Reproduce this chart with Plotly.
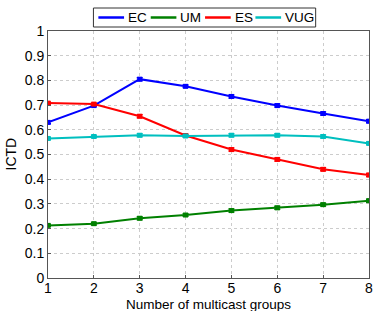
import plotly.graph_objects as go

groups = [1, 2, 3, 4, 5, 6, 7, 8]
ec = [0.630, 0.698, 0.805, 0.776, 0.735, 0.698, 0.666, 0.635]
um = [0.213, 0.220, 0.242, 0.255, 0.273, 0.284, 0.297, 0.313]
es = [0.708, 0.704, 0.655, 0.577, 0.520, 0.480, 0.440, 0.417]
vug = [0.565, 0.573, 0.578, 0.575, 0.578, 0.578, 0.573, 0.545]
err = [0.005, 0.005, 0.006, 0.005, 0.006, 0.006, 0.006, 0.006]

names = ["EC", "UM", "ES", "VUG"]
colors = ["#0000ff", "#008000", "#ff0000", "#00bfbf"]
values = [ec, um, es, vug]

FONT = "Liberation Sans, Arial, sans-serif"
W, H = 379, 311
ML, MR, MT, MB = 48, 6, 31, 33
PW, PH = W - ML - MR, H - MT - MB

def px(x):
    return (x - ML) / PW

def py(y):
    return (H - MB - y) / PH

fig = go.Figure()
for name, vals, col in zip(names, values, colors):
    fig.add_trace(go.Scatter(
        x=groups, y=vals, name=name, mode="lines+markers", showlegend=False,
        line=dict(color=col, width=2),
        marker=dict(symbol="square", size=5, color=col),
        error_y=dict(type="data", array=err, color=col, thickness=1.5, width=3),
    ))

# legend drawn as a boxed row (lines + text)
shapes = [dict(type="rect", xref="paper", yref="paper", x0=px(94), x1=px(319),
               y0=py(27), y1=py(8), line=dict(color="#333", width=1), fillcolor="white",
               layer="above")]
annotations = []
line_starts = [99, 152, 207, 258]
for name, col, x0 in zip(names, colors, line_starts):
    shapes.append(dict(type="line", xref="paper", yref="paper", x0=px(x0), x1=px(x0 + 26),
                       y0=py(17.5), y1=py(17.5), line=dict(color=col, width=2.5), layer="above"))
    annotations.append(dict(text=name, xref="paper", yref="paper", x=px(x0 + 28), y=py(17.5),
                            xanchor="left", yanchor="middle", showarrow=False,
                            font=dict(family=FONT, size=13.5, color="#000")))

annotations += [
    dict(text="Number of multicast groups", xref="paper", yref="paper",
         x=0.5, y=0, yshift=-17, xanchor="center", yanchor="top",
         showarrow=False, font=dict(family=FONT, size=13.5)),
    dict(text="ICTD", xref="paper", yref="paper", x=0, y=0.5, xshift=-28,
         xanchor="right", yanchor="middle", textangle=-90,
         showarrow=False, font=dict(family=FONT, size=14)),
]

grid = dict(showgrid=True, gridcolor="#cccccc", griddash="dot", gridwidth=1,
            showline=True, linecolor="#555555", linewidth=1, mirror=True,
            ticks="inside", ticklen=3, tickcolor="#555555",
            tickfont=dict(family=FONT, size=14, color="#000"),
            ticklabeloverflow="allow", zeroline=False)

fig.update_layout(
    width=W, height=H,
    margin=dict(l=ML, r=MR, t=MT, b=MB),
    paper_bgcolor="white", plot_bgcolor="white",
    font=dict(family=FONT, size=14, color="#000"),
    xaxis=dict(range=[1, 8], dtick=1, ticklabelstandoff=-3, **grid),
    yaxis=dict(range=[0, 1], dtick=0.1, **grid),
    showlegend=False,
    shapes=shapes,
    annotations=annotations,
)
fig.write_html("out.html", config={"displayModeBar": False},
               post_script="document.body.style.margin='0';document.body.style.overflow='hidden';")
